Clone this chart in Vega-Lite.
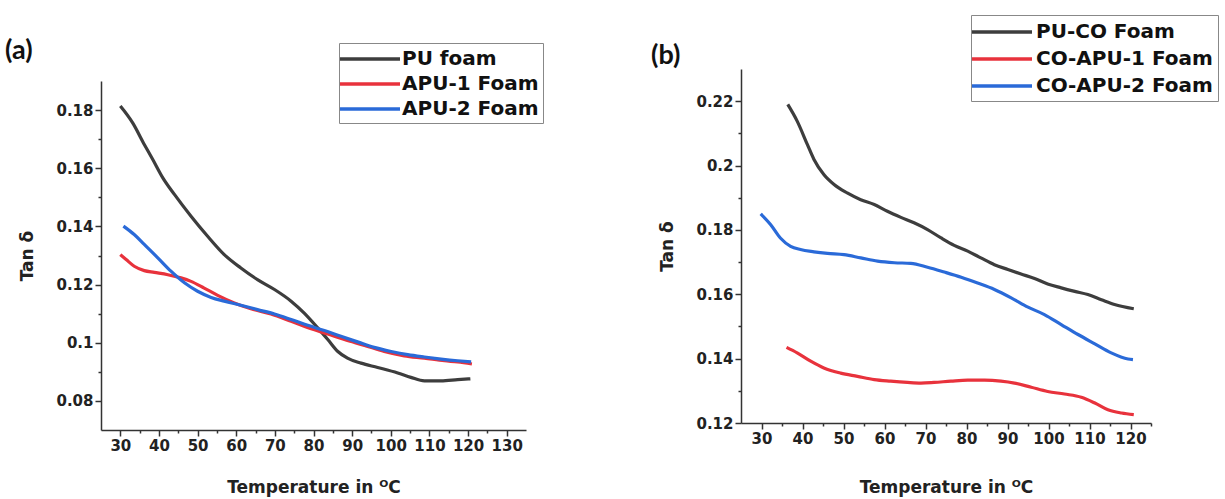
{
  "$schema": "https://vega.github.io/schema/vega-lite/v6.json",
  "background": "white",
  "padding": {"left": 5, "top": 14, "right": 0, "bottom": 0},
  "center": true,
  "spacing": 107,
  "config": {
    "view": {"stroke": null},
    "axis": {
      "grid": false,
      "domainColor": "#333333", "domainWidth": 1.5,
      "tickColor": "#333333", "tickWidth": 1.5,
      "labelFont": "DejaVu Sans", "labelFontWeight": "bold", "labelFontSize": 15, "labelColor": "#222222",
      "titleFont": "DejaVu Sans", "titleFontWeight": "bold", "titleFontSize": 17, "titleColor": "#222222",
      "labelOverlap": false, "labelFlush": false
    }
  },
  "resolve": {"scale": {"color": "independent"}, "legend": {"color": "independent"}},
  "datasets": {
    "a": [
      {"s":"PU foam","T":30,"v":0.1814},{"s":"PU foam","T":33.2,"v":0.1756},{"s":"PU foam","T":36.2,"v":0.1682},{"s":"PU foam","T":38.4,"v":0.1630},{"s":"PU foam","T":41.0,"v":0.1567},{"s":"PU foam","T":44.0,"v":0.1510},{"s":"PU foam","T":48.3,"v":0.1435},{"s":"PU foam","T":52.6,"v":0.1366},{"s":"PU foam","T":56.9,"v":0.1303},{"s":"PU foam","T":61.2,"v":0.1257},{"s":"PU foam","T":65.5,"v":0.1217},{"s":"PU foam","T":69.9,"v":0.1183},{"s":"PU foam","T":74.2,"v":0.1143},{"s":"PU foam","T":77.6,"v":0.1102},{"s":"PU foam","T":81.1,"v":0.1051},{"s":"PU foam","T":83.7,"v":0.1011},{"s":"PU foam","T":86.3,"v":0.0970},{"s":"PU foam","T":88.8,"v":0.0947},{"s":"PU foam","T":92.3,"v":0.0930},{"s":"PU foam","T":96.6,"v":0.0915},{"s":"PU foam","T":101.8,"v":0.0896},{"s":"PU foam","T":105.2,"v":0.0881},{"s":"PU foam","T":108.7,"v":0.0869},{"s":"PU foam","T":113.0,"v":0.0869},{"s":"PU foam","T":117.3,"v":0.0873},{"s":"PU foam","T":120.6,"v":0.0876},
      {"s":"APU-1 Foam","T":30,"v":0.1303},{"s":"APU-1 Foam","T":31.5,"v":0.1286},{"s":"APU-1 Foam","T":33.6,"v":0.1263},{"s":"APU-1 Foam","T":36.2,"v":0.1248},{"s":"APU-1 Foam","T":38.8,"v":0.1242},{"s":"APU-1 Foam","T":42.3,"v":0.1234},{"s":"APU-1 Foam","T":45.7,"v":0.1223},{"s":"APU-1 Foam","T":48.3,"v":0.1211},{"s":"APU-1 Foam","T":51.7,"v":0.1188},{"s":"APU-1 Foam","T":55.2,"v":0.1163},{"s":"APU-1 Foam","T":59.5,"v":0.1137},{"s":"APU-1 Foam","T":63.8,"v":0.1117},{"s":"APU-1 Foam","T":69.0,"v":0.1099},{"s":"APU-1 Foam","T":74.2,"v":0.1074},{"s":"APU-1 Foam","T":79.4,"v":0.1048},{"s":"APU-1 Foam","T":83.7,"v":0.1030},{"s":"APU-1 Foam","T":88.0,"v":0.1011},{"s":"APU-1 Foam","T":93.2,"v":0.0991},{"s":"APU-1 Foam","T":98.3,"v":0.0970},{"s":"APU-1 Foam","T":103.5,"v":0.0955},{"s":"APU-1 Foam","T":108.7,"v":0.0947},{"s":"APU-1 Foam","T":113.9,"v":0.0938},{"s":"APU-1 Foam","T":117.3,"v":0.0934},{"s":"APU-1 Foam","T":121.0,"v":0.0927},
      {"s":"APU-2 Foam","T":30.8,"v":0.1401},{"s":"APU-2 Foam","T":33.6,"v":0.1372},{"s":"APU-2 Foam","T":36.2,"v":0.1338},{"s":"APU-2 Foam","T":39.7,"v":0.1292},{"s":"APU-2 Foam","T":43.1,"v":0.1246},{"s":"APU-2 Foam","T":46.6,"v":0.1206},{"s":"APU-2 Foam","T":50.0,"v":0.1177},{"s":"APU-2 Foam","T":53.5,"v":0.1156},{"s":"APU-2 Foam","T":56.9,"v":0.1143},{"s":"APU-2 Foam","T":61.2,"v":0.1129},{"s":"APU-2 Foam","T":65.5,"v":0.1114},{"s":"APU-2 Foam","T":69.9,"v":0.1099},{"s":"APU-2 Foam","T":74.2,"v":0.1080},{"s":"APU-2 Foam","T":78.5,"v":0.1060},{"s":"APU-2 Foam","T":82.8,"v":0.1042},{"s":"APU-2 Foam","T":87.1,"v":0.1022},{"s":"APU-2 Foam","T":91.4,"v":0.1003},{"s":"APU-2 Foam","T":95.7,"v":0.0984},{"s":"APU-2 Foam","T":100.1,"v":0.0970},{"s":"APU-2 Foam","T":104.4,"v":0.0959},{"s":"APU-2 Foam","T":108.7,"v":0.0951},{"s":"APU-2 Foam","T":113.0,"v":0.0944},{"s":"APU-2 Foam","T":117.3,"v":0.0938},{"s":"APU-2 Foam","T":120.8,"v":0.0934}
    ],
    "b": [
      {"s":"PU-CO Foam","T":36.4,"v":0.2190},{"s":"PU-CO Foam","T":38.7,"v":0.2138},{"s":"PU-CO Foam","T":41.2,"v":0.2065},{"s":"PU-CO Foam","T":42.8,"v":0.2019},{"s":"PU-CO Foam","T":45.2,"v":0.1972},{"s":"PU-CO Foam","T":47.7,"v":0.1941},{"s":"PU-CO Foam","T":50.9,"v":0.1915},{"s":"PU-CO Foam","T":54.2,"v":0.1894},{"s":"PU-CO Foam","T":57.5,"v":0.1879},{"s":"PU-CO Foam","T":60.7,"v":0.1858},{"s":"PU-CO Foam","T":64.0,"v":0.1839},{"s":"PU-CO Foam","T":67.2,"v":0.1822},{"s":"PU-CO Foam","T":70.5,"v":0.1801},{"s":"PU-CO Foam","T":73.8,"v":0.1775},{"s":"PU-CO Foam","T":77.0,"v":0.1752},{"s":"PU-CO Foam","T":80.3,"v":0.1734},{"s":"PU-CO Foam","T":83.5,"v":0.1713},{"s":"PU-CO Foam","T":86.8,"v":0.1692},{"s":"PU-CO Foam","T":90.1,"v":0.1677},{"s":"PU-CO Foam","T":93.3,"v":0.1663},{"s":"PU-CO Foam","T":96.6,"v":0.1649},{"s":"PU-CO Foam","T":99.8,"v":0.1632},{"s":"PU-CO Foam","T":103.1,"v":0.1620},{"s":"PU-CO Foam","T":106.4,"v":0.1609},{"s":"PU-CO Foam","T":109.6,"v":0.1599},{"s":"PU-CO Foam","T":112.9,"v":0.1583},{"s":"PU-CO Foam","T":116.1,"v":0.1568},{"s":"PU-CO Foam","T":120.8,"v":0.1555},
      {"s":"CO-APU-1 Foam","T":36.1,"v":0.1435},{"s":"CO-APU-1 Foam","T":38.7,"v":0.1418},{"s":"CO-APU-1 Foam","T":42.0,"v":0.1392},{"s":"CO-APU-1 Foam","T":45.2,"v":0.1371},{"s":"CO-APU-1 Foam","T":49.3,"v":0.1355},{"s":"CO-APU-1 Foam","T":53.4,"v":0.1345},{"s":"CO-APU-1 Foam","T":57.5,"v":0.1335},{"s":"CO-APU-1 Foam","T":61.5,"v":0.1330},{"s":"CO-APU-1 Foam","T":65.6,"v":0.1326},{"s":"CO-APU-1 Foam","T":68.9,"v":0.1324},{"s":"CO-APU-1 Foam","T":72.1,"v":0.1326},{"s":"CO-APU-1 Foam","T":76.2,"v":0.1330},{"s":"CO-APU-1 Foam","T":80.3,"v":0.1333},{"s":"CO-APU-1 Foam","T":84.4,"v":0.1333},{"s":"CO-APU-1 Foam","T":88.4,"v":0.1330},{"s":"CO-APU-1 Foam","T":91.7,"v":0.1324},{"s":"CO-APU-1 Foam","T":95.8,"v":0.1311},{"s":"CO-APU-1 Foam","T":99.8,"v":0.1298},{"s":"CO-APU-1 Foam","T":103.9,"v":0.1290},{"s":"CO-APU-1 Foam","T":108.0,"v":0.1280},{"s":"CO-APU-1 Foam","T":111.3,"v":0.1262},{"s":"CO-APU-1 Foam","T":114.5,"v":0.1241},{"s":"CO-APU-1 Foam","T":117.8,"v":0.1231},{"s":"CO-APU-1 Foam","T":120.8,"v":0.1226},
      {"s":"CO-APU-2 Foam","T":29.8,"v":0.1850},{"s":"CO-APU-2 Foam","T":32.2,"v":0.1817},{"s":"CO-APU-2 Foam","T":34.6,"v":0.1775},{"s":"CO-APU-2 Foam","T":37.1,"v":0.1749},{"s":"CO-APU-2 Foam","T":39.5,"v":0.1739},{"s":"CO-APU-2 Foam","T":42.8,"v":0.1732},{"s":"CO-APU-2 Foam","T":46.1,"v":0.1727},{"s":"CO-APU-2 Foam","T":50.1,"v":0.1723},{"s":"CO-APU-2 Foam","T":54.2,"v":0.1713},{"s":"CO-APU-2 Foam","T":58.3,"v":0.1703},{"s":"CO-APU-2 Foam","T":62.4,"v":0.1698},{"s":"CO-APU-2 Foam","T":66.4,"v":0.1696},{"s":"CO-APU-2 Foam","T":70.5,"v":0.1684},{"s":"CO-APU-2 Foam","T":74.6,"v":0.1669},{"s":"CO-APU-2 Foam","T":78.7,"v":0.1653},{"s":"CO-APU-2 Foam","T":82.7,"v":0.1635},{"s":"CO-APU-2 Foam","T":86.8,"v":0.1615},{"s":"CO-APU-2 Foam","T":90.9,"v":0.1589},{"s":"CO-APU-2 Foam","T":95.0,"v":0.1560},{"s":"CO-APU-2 Foam","T":99.0,"v":0.1537},{"s":"CO-APU-2 Foam","T":103.1,"v":0.1506},{"s":"CO-APU-2 Foam","T":107.2,"v":0.1475},{"s":"CO-APU-2 Foam","T":111.3,"v":0.1446},{"s":"CO-APU-2 Foam","T":115.3,"v":0.1418},{"s":"CO-APU-2 Foam","T":119.4,"v":0.1399},{"s":"CO-APU-2 Foam","T":120.6,"v":0.1397}
    ]
  },
  "hconcat": [
    {
      "title": {"text": "(a)", "anchor": "start", "frame": "group", "dx": -96, "dy": 40, "offset": 18, "font": "Lato", "fontSize": 27, "fontWeight": "bold", "color": "#111111"},
      "width": 425,
      "height": 349,
      "data": {"name": "a"},
      "mark": {"type": "line", "strokeWidth": 3.2, "interpolate": "monotone"},
      "encoding": {
        "x": {"field": "T", "type": "quantitative", "scale": {"domain": [25, 135], "nice": false, "zero": false},
          "axis": {"title": "Temperature in ᴼC", "titlePadding": 26,
            "values": [30,35,40,45,50,55,60,65,70,75,80,85,90,95,100,105,110,115,120,125,130],
            "labelExpr": "datum.value % 10 === 0 ? datum.label : ''",
            "tickSize": {"condition": {"test": "datum.value % 10 === 0", "value": 6}, "value": 3}}},
        "y": {"field": "v", "type": "quantitative", "scale": {"domain": [0.07, 0.19], "nice": false, "zero": false},
          "axis": {"title": "Tan δ", "titlePadding": 19, "format": "~g",
            "values": [0.08,0.09,0.1,0.11,0.12,0.13,0.14,0.15,0.16,0.17,0.18],
            "labelExpr": "round(datum.value*100) % 2 === 0 ? datum.label : ''",
            "tickSize": {"condition": {"test": "round(datum.value*100) % 2 === 0", "value": 6}, "value": 3}}},
        "color": {"field": "s", "type": "nominal",
          "scale": {"domain": ["PU foam", "APU-1 Foam", "APU-2 Foam"], "range": ["#3d3d3d", "#e8323c", "#2a6ad8"]},
          "legend": {"orient": "none", "legendX": 238, "legendY": -38, "title": null,
            "symbolType": "M-3,0H3", "symbolSize": 400, "symbolStrokeWidth": 3.5, "symbolOffset": 15,
            "labelOffset": 20, "labelFont": "DejaVu Sans", "labelFontWeight": "bold", "labelFontSize": 20,
            "labelColor": "#111111", "labelLimit": 300, "strokeColor": "#888888", "padding": 4, "rowPadding": 3}}
      }
    },
    {
      "title": {"text": "(b)", "anchor": "start", "frame": "group", "dx": -90, "dy": 61, "offset": 6, "font": "Lato", "fontSize": 27, "fontWeight": "bold", "color": "#111111"},
      "width": 410,
      "height": 354,
      "data": {"name": "b"},
      "mark": {"type": "line", "strokeWidth": 3.2, "interpolate": "monotone"},
      "encoding": {
        "x": {"field": "T", "type": "quantitative", "scale": {"domain": [25, 125], "nice": false, "zero": false},
          "axis": {"title": ["Temperature in ᴼC", ""], "titleLineHeight": 12, "titlePadding": 33,
            "values": [30,35,40,45,50,55,60,65,70,75,80,85,90,95,100,105,110,115,120,125],
            "labelExpr": "datum.value % 10 === 0 ? datum.label : ''",
            "tickSize": {"condition": {"test": "datum.value % 10 === 0", "value": 6}, "value": 3}}},
        "y": {"field": "v", "type": "quantitative", "scale": {"domain": [0.12, 0.23], "nice": false, "zero": false},
          "axis": {"title": "Tan δ", "titlePadding": 19, "format": "~g",
            "values": [0.12,0.13,0.14,0.15,0.16,0.17,0.18,0.19,0.2,0.21,0.22],
            "labelExpr": "round(datum.value*100) % 2 === 0 ? datum.label : ''",
            "tickSize": {"condition": {"test": "round(datum.value*100) % 2 === 0", "value": 6}, "value": 3}}},
        "color": {"field": "s", "type": "nominal",
          "scale": {"domain": ["PU-CO Foam", "CO-APU-1 Foam", "CO-APU-2 Foam"], "range": ["#3d3d3d", "#e8323c", "#2a6ad8"]},
          "legend": {"orient": "none", "legendX": 230, "legendY": -54, "title": null,
            "symbolType": "M-3,0H3", "symbolSize": 400, "symbolStrokeWidth": 3.5, "symbolOffset": 14,
            "labelOffset": 22, "labelFont": "DejaVu Sans", "labelFontWeight": "bold", "labelFontSize": 20,
            "labelColor": "#111111", "labelLimit": 300, "strokeColor": "#888888", "padding": 5, "rowPadding": 5}}
      }
    }
  ]
}
